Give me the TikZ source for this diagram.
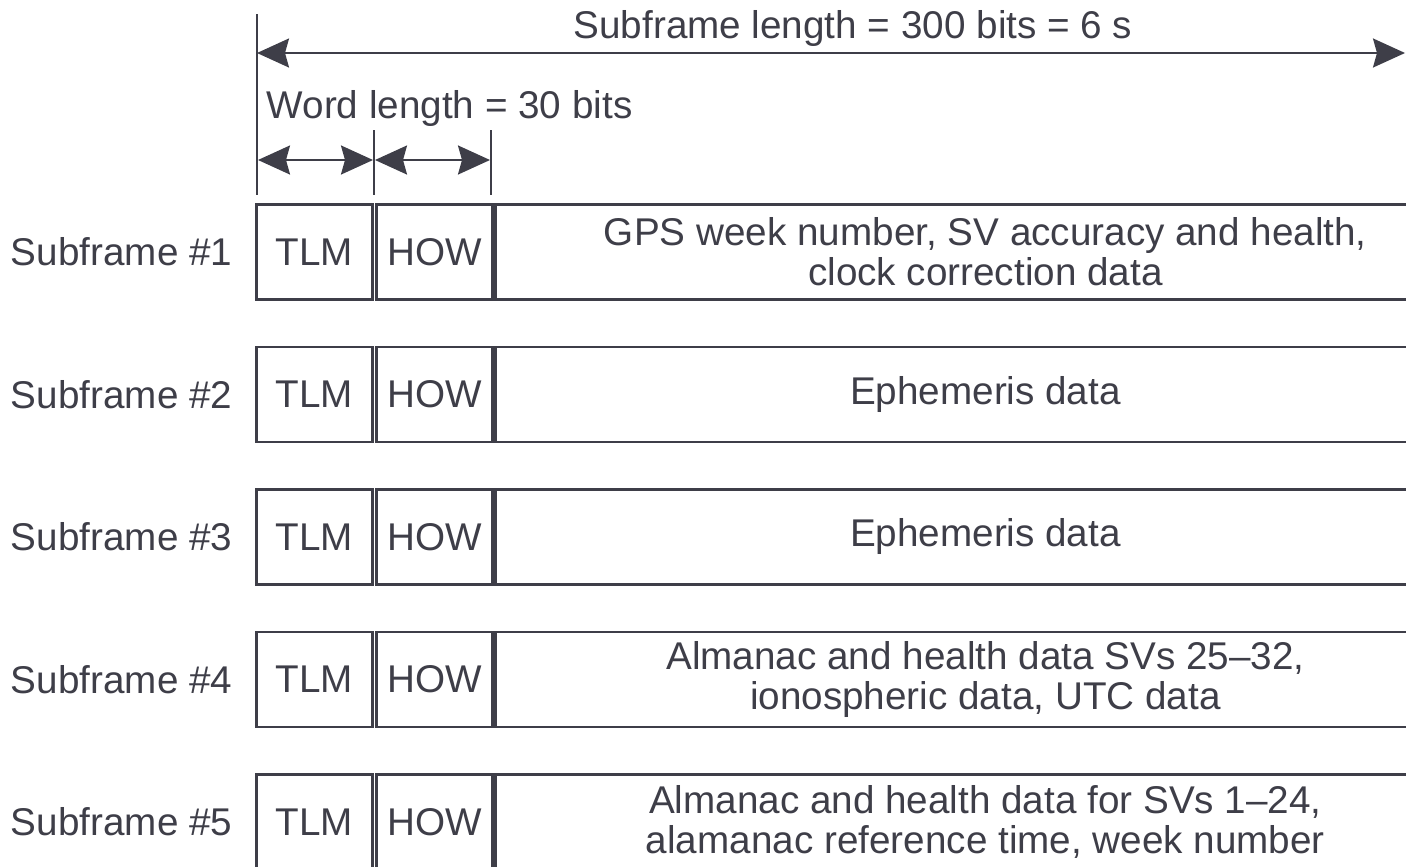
\documentclass[tikz,border=0pt]{standalone}
\usepackage{fontspec}
\setmainfont{Liberation Sans}
\usetikzlibrary{arrows.meta, positioning}
\definecolor{ink}{RGB}{62,62,72}

\tikzset{
  cell/.style={draw=ink, line width=0.8pt, inner sep=0pt, anchor=north west,
    minimum height=0.95cm, text=ink},
  dimline/.style={draw=ink, line width=0.6pt,
    {Stealth[length=3.2mm, width=2.9mm, inset=0.4mm]}-{Stealth[length=3.2mm, width=2.9mm, inset=0.4mm]}},
  tick/.style={draw=ink, line width=0.6pt},
}

\begin{document}
\begin{tikzpicture}[font=\fontsize{11}{11.4}\selectfont, text=ink]
  \useasboundingbox (0,0) rectangle (14.06,-8.66);
  \clip (0,0) rectangle (14.06,-8.66);

  % Tick marks at the word boundaries
  \coordinate (s0) at (2.57,-0.14);
  \coordinate (s1) at (2.57,-1.95);
  \coordinate (w0) at (3.74,-1.30);
  \coordinate (w1) at (3.74,-1.95);
  \coordinate (v0) at (4.91,-1.30);
  \coordinate (v1) at (4.91,-1.95);
  \draw[tick] (s0) -- (s1);
  \draw[tick] (w0) -- (w1);
  \draw[tick] (v0) -- (v1);

  % Subframe length
  \coordinate (sfa) at (2.57,-0.53);
  \coordinate (sfb) at (14.05,-0.53);
  \draw[dimline] (sfa) -- (sfb);
  \node (sflen) at (8.53,-0.29) {Subframe length = 300 bits = 6 s};

  % Word length
  \coordinate (wa) at (2.58,-1.60);
  \coordinate (wb) at (3.73,-1.60);
  \coordinate (wc) at (3.75,-1.60);
  \coordinate (wd) at (4.90,-1.60);
  \draw[dimline] (wa) -- (wb);
  \draw[dimline] (wc) -- (wd);
  \node[anchor=west, inner sep=0pt] (wlen) at (2.66,-1.09) {Word length = 30 bits};

  % The five subframes
  \foreach \i/\txt in {
    1/{GPS week number, SV accuracy and health,\\clock correction data},
    2/{Ephemeris data},
    3/{Ephemeris data},
    4/{Almanac and health data SVs 25--32,\\ionospheric data, UTC data},
    5/{Almanac and health data for SVs 1--24,\\alamanac reference time, week number}}{
    \pgfmathsetmacro{\y}{-2.03-1.425*(\i-1)}
    \node[cell, minimum width=1.16cm] (tlm\i) at (2.55,\y) {TLM};
    \node[cell, minimum width=1.16cm] (how\i) at (3.75,\y) {HOW};
    \node[cell, minimum width=9.8cm, align=center] (data\i) at (4.94,\y) {\txt};
    \node[anchor=east, inner sep=0pt] (lbl\i) at ([xshift=-0.22cm]tlm\i.west) {Subframe \#\i};
  }
\end{tikzpicture}
\end{document}
